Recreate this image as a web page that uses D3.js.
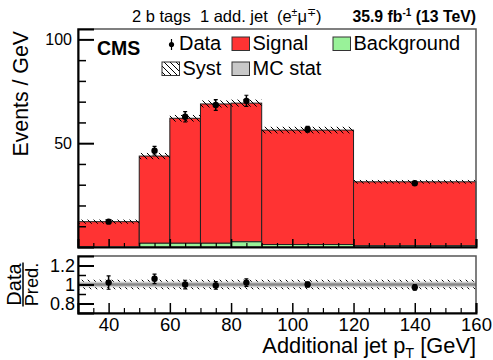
<!DOCTYPE html>
<html>
<head>
<meta charset="utf-8">
<script src="https://cdn.jsdelivr.net/npm/d3@7"></script>
<style>
  body { margin: 0; background: #fff; }
  svg { display: block; font-family: "Liberation Sans", Arial, sans-serif; }
</style>
</head>
<body>
<svg id="chart" width="493" height="360"></svg>
<script>
// bin edges of the additional jet pT histogram
const binEdges = [30, 50, 60, 70, 80, 90, 120, 160];
const signal = [12.2, 42.0, 60.2, 67.1, 66.8, 55.1, 30.8];
const background = [0, 1.8, 1.8, 1.8, 2.5, 1.2, 0.6];
const syst = [1.0, 1.5, 1.6, 1.7, 1.7, 1.6, 0.9];

const dataX = [40, 55, 65, 75, 85, 105, 140];
const dataY = [12.2, 46.4, 62.7, 68.4, 70.4, 56.7, 30.7];
const dataErr = [0.8, 2.1, 2.5, 2.6, 2.7, 1.4, 0.9];

const ratio = [1.02, 1.06, 1.0, 0.99, 1.02, 1.0, 0.97];
const ratioErr = [0.07, 0.05, 0.045, 0.04, 0.04, 0.025, 0.03];
const ratioSyst = 0.05;
const ratioMcStat = 0.03;

const xTicks = [40, 60, 80, 100, 120, 140, 160];
const yTicks = [50, 100];
const ratioTicks = [0.8, 1, 1.2];

const RED = "#ff3333";
const GREEN = "#99f299";
const main = { left: 78, right: 476, top: 29, bottom: 247 };
const rat = { top: 256, bottom: 313 };

const svg = d3.select("#chart");

const x = d3.scaleLinear().domain([30, 160]).range([main.left, main.right]);
const y = d3.scaleLinear().domain([0, 105]).range([main.bottom, main.top]);
const yr = d3.scaleLinear().domain([0.7, 1.3]).range([rat.bottom, rat.top]);

// hatch pattern for systematics
const defs = svg.append("defs");
defs.append("pattern")
  .attr("id", "hatch")
  .attr("patternUnits", "userSpaceOnUse")
  .attr("width", 6)
  .attr("height", 6)
  .append("path")
  .attr("d", "M-1,-1 L7,7 M-4,2 L2,8 M4,-2 L8,2")
  .attr("stroke", "#000")
  .attr("stroke-width", 1);

const bins = signal.map((s, i) => ({
  x0: binEdges[i],
  x1: binEdges[i + 1],
  sig: s,
  bg: background[i],
  total: s + background[i],
  syst: syst[i],
}));

// ---------- main panel ----------
const gMain = svg.append("g");

gMain.selectAll(".sig")
  .data(bins)
  .join("rect")
  .attr("class", "sig")
  .attr("x", (d) => x(d.x0))
  .attr("width", (d) => x(d.x1) - x(d.x0))
  .attr("y", (d) => y(d.total))
  .attr("height", (d) => y(d.bg) - y(d.total))
  .attr("fill", RED)
  .attr("stroke", "#222")
  .attr("stroke-width", 1);

gMain.selectAll(".bg")
  .data(bins.filter((d) => d.bg > 0))
  .join("rect")
  .attr("class", "bg")
  .attr("x", (d) => x(d.x0))
  .attr("width", (d) => x(d.x1) - x(d.x0))
  .attr("y", (d) => y(d.bg))
  .attr("height", (d) => y(0) - y(d.bg))
  .attr("fill", GREEN)
  .attr("stroke", "#222")
  .attr("stroke-width", 1);

gMain.selectAll(".syst")
  .data(bins)
  .join("rect")
  .attr("class", "syst")
  .attr("x", (d) => x(d.x0))
  .attr("width", (d) => x(d.x1) - x(d.x0))
  .attr("y", (d) => y(d.total + d.syst))
  .attr("height", (d) => y(d.total - d.syst) - y(d.total + d.syst))
  .attr("fill", "url(#hatch)");

// data points
const pts = dataX.map((v, i) => ({ x: v, y: dataY[i], e: dataErr[i] }));
const gPts = gMain.selectAll(".pt").data(pts).join("g").attr("class", "pt");
gPts.append("line")
  .attr("x1", (d) => x(d.x)).attr("x2", (d) => x(d.x))
  .attr("y1", (d) => y(d.y + d.e)).attr("y2", (d) => y(d.y - d.e))
  .attr("stroke", "#000").attr("stroke-width", 1.5);
gPts.append("path")
  .attr("d", (d) => `M${x(d.x) - 2},${y(d.y + d.e)}h4M${x(d.x) - 2},${y(d.y - d.e)}h4`)
  .attr("stroke", "#000").attr("stroke-width", 1.2);
gPts.append("circle")
  .attr("cx", (d) => x(d.x)).attr("cy", (d) => y(d.y))
  .attr("r", 3.2).attr("fill", "#000");

// frame and axes of main panel
svg.append("rect")
  .attr("x", main.left).attr("y", main.top)
  .attr("width", main.right - main.left).attr("height", main.bottom - main.top)
  .attr("fill", "none").attr("stroke", "#555").attr("stroke-width", 1.5);

svg.append("g")
  .attr("transform", `translate(${main.left},0)`)
  .call(d3.axisLeft(y).tickValues(yTicks).tickSize(-16).tickPadding(6))
  .call((g) => g.select(".domain").attr("stroke", "#000").attr("stroke-width", 2))
  .call((g) => g.selectAll(".tick line").attr("stroke-width", 2))
  .call((g) => g.selectAll("text").attr("font-size", 16).attr("fill", "#000").attr("font-family", null));
svg.append("g")
  .attr("transform", `translate(${main.left},0)`)
  .call(d3.axisLeft(y).tickValues(d3.range(10, 101, 10).filter((v) => v % 50)).tickSize(-8).tickFormat(""))
  .call((g) => g.select(".domain").remove())
  .call((g) => g.selectAll(".tick line").attr("stroke-width", 1.5));

const minorX = d3.range(35, 160, 5).filter((v) => !xTicks.includes(v));
svg.append("g")
  .attr("transform", `translate(0,${main.bottom})`)
  .call(d3.axisBottom(x).tickValues(xTicks).tickSize(-8).tickFormat(""))
  .call((g) => g.select(".domain").attr("stroke", "#000").attr("stroke-width", 2))
  .call((g) => g.selectAll(".tick line").attr("stroke-width", 1.5));
svg.append("g")
  .attr("transform", `translate(0,${main.bottom})`)
  .call(d3.axisBottom(x).tickValues(minorX).tickSize(-4).tickFormat(""))
  .call((g) => g.select(".domain").remove())
  .call((g) => g.selectAll(".tick line").attr("stroke-width", 1.2));

// ---------- ratio panel ----------
const gRat = svg.append("g");
gRat.append("rect")
  .attr("x", main.left).attr("width", main.right - main.left)
  .attr("y", yr(1 + ratioSyst)).attr("height", yr(1 - ratioSyst) - yr(1 + ratioSyst))
  .attr("fill", "url(#hatch)");
gRat.append("rect")
  .attr("x", main.left).attr("width", main.right - main.left)
  .attr("y", yr(1 + ratioMcStat)).attr("height", yr(1 - ratioMcStat) - yr(1 + ratioMcStat))
  .attr("fill", "#cccccc");
gRat.append("line")
  .attr("x1", main.left).attr("x2", main.right)
  .attr("y1", yr(1)).attr("y2", yr(1))
  .attr("stroke", "#888").attr("stroke-width", 2.5);

const rpts = dataX.map((v, i) => ({ x: v, y: ratio[i], e: ratioErr[i] }));
const gR = gRat.selectAll(".rpt").data(rpts).join("g").attr("class", "rpt");
gR.append("line")
  .attr("x1", (d) => x(d.x)).attr("x2", (d) => x(d.x))
  .attr("y1", (d) => yr(d.y + d.e)).attr("y2", (d) => yr(d.y - d.e))
  .attr("stroke", "#000").attr("stroke-width", 1.5);
gR.append("path")
  .attr("d", (d) => `M${x(d.x) - 2},${yr(d.y + d.e)}h4M${x(d.x) - 2},${yr(d.y - d.e)}h4`)
  .attr("stroke", "#000").attr("stroke-width", 1.2);
gR.append("circle")
  .attr("cx", (d) => x(d.x)).attr("cy", (d) => yr(d.y))
  .attr("r", 3.2).attr("fill", "#000");

svg.append("rect")
  .attr("x", main.left).attr("y", rat.top)
  .attr("width", main.right - main.left).attr("height", rat.bottom - rat.top)
  .attr("fill", "none").attr("stroke", "#555").attr("stroke-width", 1.5);

svg.append("g")
  .attr("transform", `translate(${main.left},0)`)
  .call(d3.axisLeft(yr).tickValues(ratioTicks).tickSize(-16).tickPadding(3).tickFormat((d) => d === 1 ? "1" : d3.format(".1f")(d)))
  .call((g) => g.select(".domain").attr("stroke", "#000").attr("stroke-width", 2))
  .call((g) => g.selectAll(".tick line").attr("stroke-width", 2))
  .call((g) => g.selectAll("text").attr("font-size", 18).attr("fill", "#000").attr("font-family", null));
svg.append("g")
  .attr("transform", `translate(${main.left},0)`)
  .call(d3.axisLeft(yr).tickValues([0.9, 1.1]).tickSize(-8).tickFormat(""))
  .call((g) => g.select(".domain").remove())
  .call((g) => g.selectAll(".tick line").attr("stroke-width", 1.5));

svg.append("g")
  .attr("transform", `translate(0,${rat.bottom})`)
  .call(d3.axisBottom(x).tickValues(xTicks).tickSize(-10))
  .call((g) => g.select(".domain").attr("stroke", "#000").attr("stroke-width", 2))
  .call((g) => g.selectAll(".tick line").attr("stroke-width", 1.5))
  .call((g) => g.selectAll("text").attr("font-size", 18.5).attr("fill", "#000").attr("font-family", null)
    .attr("dy", null).attr("y", 17.5));
svg.append("g")
  .attr("transform", `translate(0,${rat.bottom})`)
  .call(d3.axisBottom(x).tickValues(minorX).tickSize(-5).tickFormat(""))
  .call((g) => g.select(".domain").remove())
  .call((g) => g.selectAll(".tick line").attr("stroke-width", 1.2));

// ---------- titles ----------
const xt = svg.append("text")
  .attr("x", main.right).attr("y", 352.5)
  .attr("text-anchor", "end").attr("font-size", 21.8);
xt.append("tspan").text("Additional jet p");
xt.append("tspan").attr("font-size", 14.5).attr("dy", 5).text("T");
xt.append("tspan").attr("dy", -5).text(" [GeV]");

svg.append("text")
  .attr("transform", "translate(28,31) rotate(-90)")
  .attr("text-anchor", "end").attr("font-size", 21.3)
  .text("Events / GeV");

const fr = svg.append("g").attr("transform", `translate(0,${yr(1)}) rotate(-90)`);
fr.append("text").attr("x", 0).attr("y", 21).attr("text-anchor", "middle").attr("font-size", 20).text("Data");
fr.append("line").attr("x1", -22).attr("x2", 22).attr("y1", 23).attr("y2", 23).attr("stroke", "#000").attr("stroke-width", 1.5);
fr.append("text").attr("x", 0).attr("y", 38).attr("text-anchor", "middle").attr("font-size", 18.3).text("Pred.");

// header
const hd = svg.append("text").attr("x", 132).attr("y", 22).attr("font-size", 16.5)
  .attr("xml:space", "preserve");
hd.append("tspan").text("2 b tags  1 add. jet  (e");
hd.append("tspan").attr("font-size", 10.5).attr("dy", -6).text("±");
hd.append("tspan").attr("dy", 6).text("μ");
hd.append("tspan").attr("font-size", 10.5).attr("dy", -6).text("∓");
hd.append("tspan").attr("dy", 6).text(")");

const lumi = svg.append("text").attr("x", main.right).attr("y", 22)
  .attr("text-anchor", "end").attr("font-size", 15.8).attr("font-weight", "bold");
lumi.append("tspan").text("35.9 fb");
lumi.append("tspan").attr("font-size", 10).attr("dy", -6).text("-1");
lumi.append("tspan").attr("dy", 6).text(" (13 TeV)");

svg.append("text").attr("x", 97).attr("y", 55)
  .attr("font-size", 19.5).attr("font-weight", "bold").text("CMS");

// ---------- legend ----------
const lg = svg.append("g").attr("font-size", 20);
lg.append("line").attr("x1", 171.5).attr("x2", 171.5).attr("y1", 39).attr("y2", 50).attr("stroke", "#000").attr("stroke-width", 1.2);
lg.append("circle").attr("cx", 171.5).attr("cy", 44.5).attr("r", 2.6).attr("fill", "#000");
lg.append("text").attr("x", 179).attr("y", 49.5).text("Data");

const boxes = [
  { x: 232, y: 37, fill: RED, label: "Signal" },
  { x: 333, y: 37, fill: GREEN, label: "Background" },
  { x: 162, y: 62, fill: "url(#hatch)", label: "Syst" },
  { x: 232, y: 62, fill: "#c8c8c8", label: "MC stat" },
];
boxes.forEach((b) => {
  lg.append("rect").attr("x", b.x).attr("y", b.y).attr("width", 17.5).attr("height", 13.5)
    .attr("fill", b.fill).attr("stroke", "#333").attr("stroke-width", 1);
  lg.append("text").attr("x", b.x + 20.5).attr("y", b.y + 13).text(b.label);
});
</script>
</body>
</html>
